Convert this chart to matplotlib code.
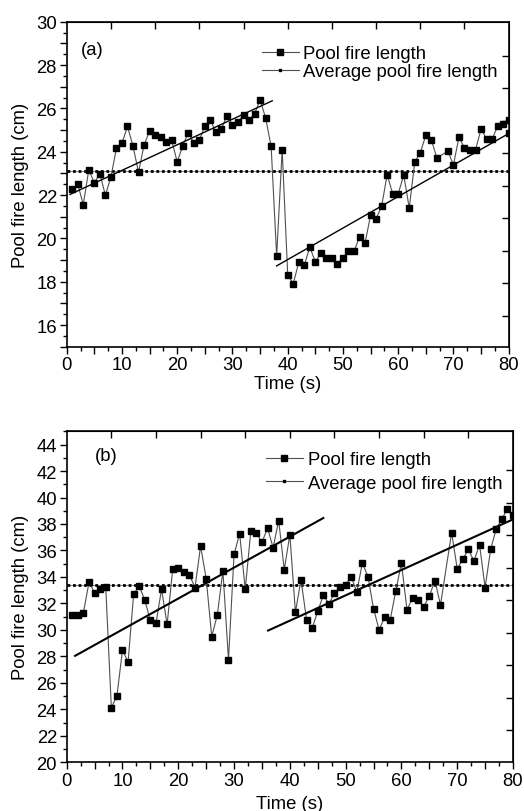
import numpy as np
import matplotlib
matplotlib.use("Agg")
from matplotlib import pyplot as plt
from matplotlib.ticker import MultipleLocator, FuncFormatter

plt.rcParams['font.family'] = ['Liberation Sans', 'DejaVu Sans']
plt.rcParams['font.size'] = 13.3

# panel (a) data
time_a = list(range(1, 68)) + [69, 70, 71, 72, 73, 74, 75, 76, 77, 78, 79, 80, 80]
len_a = [22.28, 22.5, 21.56, 23.17, 22.57, 22.99, 21.99, 22.83, 24.16, 24.39,
         25.17, 24.26, 23.05, 24.31, 24.96, 24.76, 24.68, 24.46, 24.53, 23.53,
         24.26, 24.88, 24.39, 24.54, 25.17, 25.46, 24.9, 25.05, 25.66, 25.25,
         25.39, 25.68, 25.48, 25.74, 26.4, 25.56, 24.25, 19.19, 24.09, 18.33,
         17.9, 18.9, 18.76, 19.6, 18.91, 19.33, 19.11, 19.11, 18.83, 19.11,
         19.4, 19.4, 20.06, 19.77, 21.08, 20.91, 21.48, 22.94, 22.06, 22.06,
         22.93, 21.4, 23.53, 23.96, 24.76, 24.54, 23.72,
         24.02, 23.39, 24.68, 24.16, 24.09, 24.09, 25.05, 24.59, 24.59, 25.17,
         25.29, 25.46, 24.86]
avg_a = 23.11
fit_a1_x, fit_a1_y = [0.6, 37.2], [22.03, 26.35]
fit_a2_x, fit_a2_y = [38, 80], [18.73, 24.84]

# panel (b) data
time_b = list(range(1, 68)) + [69, 70, 71, 72, 73, 74, 75, 76, 77, 78, 79, 80]
len_b = [31.11, 31.11, 31.31, 33.6, 32.79, 33.07, 33.22, 24.12, 25.0, 28.49,
         27.56, 32.71, 33.32, 32.24, 30.71, 30.5, 33.07, 30.41, 34.6, 34.71,
         34.4, 34.15, 33.2, 36.33, 33.88, 29.5, 31.13, 34.45, 27.74, 35.71,
         37.27, 33.07, 37.44, 37.32, 36.61, 37.69, 36.21, 38.25, 34.55, 37.19,
         31.33, 33.8, 30.75, 30.13, 31.41, 32.62, 31.96, 32.77, 33.22, 33.42,
         34.03, 32.87, 35.05, 34.03, 31.61, 30.0, 30.96, 30.78, 32.97, 35.05,
         31.51, 32.44, 32.26, 31.76, 32.54, 33.73, 31.89,
         37.35, 34.63, 35.33, 36.09, 35.2, 36.44, 33.2, 36.09, 37.65, 38.35,
         39.16, 38.65]
avg_b = 33.42
fit_b1_x, fit_b1_y = [1.5, 46], [28.04, 38.45]
fit_b2_x, fit_b2_y = [36.1, 80], [29.95, 38.35]

fig = plt.figure(figsize=(5.24, 8.12), dpi=100)
ax1 = fig.add_axes([0.1273, 0.5718, 0.8435, 0.4002])
ax2 = fig.add_axes([0.1273, 0.0600, 0.8517, 0.4076])


def draw(ax, t, v, avg, fits, fit_lw, ylim, ymaj, ymin, right_ticks, tag, tagpos,
         legpos, legsp, xpad):
    ax.plot(t, v, color='#505050', lw=0.8, marker='s', ms=4, mfc='black',
            mec='black', label='Pool fire length', zorder=3)
    ax.plot([0, 80], [avg, avg], color='#707070', lw=0.6, zorder=2)
    ax.plot([0, 80], [avg, avg], color='black', lw=2, ls=(0, (1, 1)), zorder=2)
    for fx, fy in fits:
        ax.plot(fx, fy, color='black', lw=fit_lw, zorder=4)
    # legend proxy for the average line
    ax.plot([], [], color='#505050', lw=0.8, marker='s', ms=1.5, mfc='black',
            mec='black', label='Average pool fire length')

    ax.set_xlim(0, 80)
    ax.set_ylim(*ylim)
    ax.xaxis.set_major_locator(MultipleLocator(5))
    ax.xaxis.set_minor_locator(MultipleLocator(2.5))
    ax.xaxis.set_major_formatter(FuncFormatter(lambda x, p: '%d' % x if x % 10 == 0 else ''))
    ax.yaxis.set_major_locator(MultipleLocator(ymaj))
    ax.yaxis.set_minor_locator(MultipleLocator(ymin))
    ax.yaxis.set_major_formatter(FuncFormatter(lambda y, p: '%d' % y if y % 2 == 0 else ''))
    ax.tick_params(which='major', direction='out', length=5, width=1, pad=2)
    ax.tick_params(which='minor', direction='out', length=3, width=1)
    ax.tick_params(top=False, right=False)
    for s in ax.spines.values():
        s.set_linewidth(1.2)

    top = ax.secondary_xaxis('top')
    top.set_xticks(np.arange(8, 80, 8))
    top.tick_params(direction='in', length=5, width=1, labeltop=False)
    top.xaxis.set_minor_locator(plt.NullLocator())
    right = ax.secondary_yaxis('right')
    right.set_yticks(right_ticks)
    right.tick_params(direction='in', length=5, width=1, labelright=False)
    right.yaxis.set_minor_locator(plt.NullLocator())

    ax.set_xlabel('Time (s)', labelpad=xpad)
    ax.set_ylabel('Pool fire length (cm)', labelpad=5)
    ax.text(tagpos[0], tagpos[1], tag, transform=ax.transAxes, ha='center', va='center')
    ax.legend(loc='upper left', bbox_to_anchor=legpos, frameon=False,
              borderpad=0, borderaxespad=0, handlelength=2.0, handletextpad=0.25,
              labelspacing=legsp, fontsize=13.3)


draw(ax1, time_a, len_a, avg_a, [(fit_a1_x, fit_a1_y), (fit_a2_x, fit_a2_y)], 1.0,
     (15, 30), 1, 0.5, 16.43 + 1.5 * np.arange(9), '(a)', (0.057, 0.916),
     (0.441, 0.928), 0.05, 1)
draw(ax2, time_b, len_b, avg_b, [(fit_b1_x, fit_b1_y), (fit_b2_x, fit_b2_y)], 1.5,
     (20, 45), 2, 1, 22.42 + 2.455 * np.arange(9), '(b)', (0.088, 0.928),
     (0.4466, 0.94), 0.35, 4)

fig.savefig('out.png', dpi=100)
